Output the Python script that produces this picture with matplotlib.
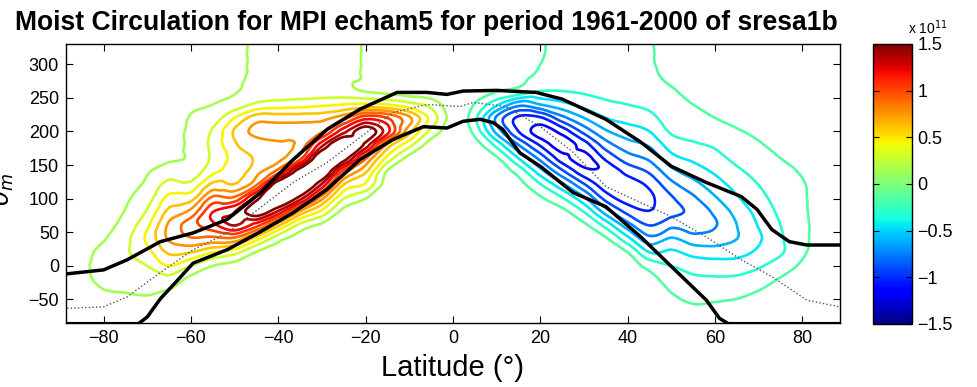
import numpy as np
import matplotlib
matplotlib.use("Agg")
import matplotlib.pyplot as plt
import matplotlib.tri as mtri
from matplotlib.colors import Normalize
from matplotlib.cm import ScalarMappable

# ---------------------------------------------------------------------------
# Moist streamfunction (units of 1e11 kg/s) on a latitude / theta_m grid.
# Each row of psi_by_lat is one latitude column, listed from theta_m=-100 to 340.
# ---------------------------------------------------------------------------
lats = np.arange(-90, 91, 5)
theta = np.arange(-100, 341, 20)

psi_by_lat = [
    # lat -90
    [0.02, 0.03, 0.05, 0.07, 0.08, 0.08, 0.07, 0.05, 0.04, 0.03, 0.03, 0.03, 0.03, 0.03, 0.03, 0.03, 0.03, 0.03, 0.03, 0.03, 0.03, 0.03, 0.03],
    # lat -85
    [0.03, 0.05, 0.07, 0.10, 0.12, 0.12, 0.11, 0.09, 0.07, 0.05, 0.04, 0.04, 0.04, 0.04, 0.04, 0.04, 0.04, 0.04, 0.04, 0.04, 0.04, 0.04, 0.04],
    # lat -80
    [0.03, 0.06, 0.10, 0.14, 0.18, 0.21, 0.19, 0.14, 0.10, 0.07, 0.06, 0.05, 0.05, 0.05, 0.05, 0.05, 0.05, 0.05, 0.05, 0.05, 0.05, 0.05, 0.05],
    # lat -75
    [0.04, 0.07, 0.11, 0.15, 0.20, 0.25, 0.28, 0.26, 0.21, 0.16, 0.13, 0.10, 0.08, 0.07, 0.06, 0.06, 0.06, 0.06, 0.06, 0.06, 0.06, 0.06, 0.06],
    # lat -70
    [0.05, 0.08, 0.12, 0.16, 0.22, 0.30, 0.40, 0.48, 0.42, 0.32, 0.24, 0.18, 0.14, 0.11, 0.09, 0.08, 0.08, 0.08, 0.08, 0.08, 0.08, 0.08, 0.08],
    # lat -65
    [0.05, 0.08, 0.10, 0.13, 0.25, 0.45, 0.62, 0.77, 0.78, 0.65, 0.50, 0.36, 0.22, 0.13, 0.10, 0.09, 0.08, 0.08, 0.08, 0.08, 0.08, 0.08, 0.08],
    # lat -60
    [0.04, 0.06, 0.08, 0.10, 0.11, 0.30, 0.60, 0.88, 0.98, 0.80, 0.55, 0.35, 0.20, 0.17, 0.18, 0.18, 0.16, 0.13, 0.11, 0.10, 0.10, 0.10, 0.10],
    # lat -55
    [0.03, 0.04, 0.06, 0.08, 0.10, 0.15, 0.45, 0.85, 1.15, 1.20, 0.95, 0.65, 0.42, 0.33, 0.34, 0.32, 0.22, 0.15, 0.12, 0.10, 0.10, 0.10, 0.10],
    # lat -50
    [0.03, 0.04, 0.05, 0.06, 0.07, 0.10, 0.35, 0.85, 1.35, 1.35, 0.95, 0.62, 0.50, 0.50, 0.58, 0.62, 0.45, 0.21, 0.14, 0.12, 0.12, 0.12, 0.12],
    # lat -45
    [0.03, 0.04, 0.05, 0.06, 0.07, 0.08, 0.14, 0.50, 1.10, 1.62, 1.45, 0.90, 0.70, 0.62, 0.66, 0.80, 0.68, 0.33, 0.20, 0.18, 0.17, 0.17, 0.17],
    # lat -40
    [0.03, 0.04, 0.05, 0.06, 0.06, 0.07, 0.09, 0.20, 0.62, 1.30, 1.75, 1.70, 0.98, 0.70, 0.72, 0.82, 0.68, 0.37, 0.20, 0.18, 0.18, 0.18, 0.18],
    # lat -35
    [0.03, 0.04, 0.05, 0.05, 0.06, 0.07, 0.08, 0.09, 0.25, 0.70, 1.40, 1.80, 1.65, 1.00, 0.80, 0.84, 0.68, 0.39, 0.21, 0.19, 0.18, 0.18, 0.18],
    # lat -30
    [0.03, 0.04, 0.05, 0.05, 0.06, 0.06, 0.07, 0.08, 0.12, 0.40, 0.78, 1.30, 1.75, 1.75, 1.30, 0.88, 0.70, 0.42, 0.21, 0.19, 0.18, 0.18, 0.18],
    # lat -25
    [0.02, 0.03, 0.04, 0.05, 0.05, 0.06, 0.06, 0.07, 0.08, 0.10, 0.30, 0.58, 0.98, 1.60, 1.78, 1.30, 0.85, 0.45, 0.20, 0.18, 0.17, 0.17, 0.17],
    # lat -20
    [0.02, 0.03, 0.04, 0.05, 0.05, 0.06, 0.06, 0.07, 0.08, 0.08, 0.15, 0.42, 0.62, 0.92, 1.45, 1.62, 1.15, 0.48, 0.14, 0.14, 0.14, 0.14, 0.14],
    # lat -15
    [0.02, 0.02, 0.03, 0.03, 0.04, 0.04, 0.05, 0.05, 0.06, 0.06, 0.06, 0.07, 0.13, 0.40, 0.70, 1.25, 1.05, 0.45, 0.10, 0.07, 0.05, 0.05, 0.05],
    # lat -10
    [0.01, 0.01, 0.02, 0.02, 0.02, 0.03, 0.03, 0.03, 0.04, 0.04, 0.04, 0.05, 0.06, 0.10, 0.35, 0.65, 0.78, 0.35, 0.06, 0.04, 0.03, 0.03, 0.03],
    # lat -5
    [0.00, 0.00, 0.00, 0.01, 0.01, 0.01, 0.01, 0.02, 0.02, 0.02, 0.02, 0.02, 0.03, 0.04, 0.08, 0.25, 0.40, 0.25, 0.03, 0.01, 0.01, 0.01, 0.01],
    # lat 0
    [0.00, 0.00, 0.00, 0.00, 0.00, 0.00, 0.00, 0.00, 0.00, 0.00, 0.00, 0.00, 0.00, 0.01, 0.02, 0.05, 0.06, 0.02, 0.00, 0.00, 0.00, 0.00, 0.00],
    # lat 5
    [0.00, 0.00, 0.00, 0.00, 0.00, 0.00, 0.00, 0.00, 0.00, 0.00, 0.00, -0.01, -0.02, -0.04, -0.08, -0.20, -0.26, -0.16, -0.06, -0.04, -0.03, -0.03, -0.03],
    # lat 10
    [0.00, 0.00, 0.00, 0.00, 0.00, 0.00, -0.01, -0.01, -0.02, -0.02, -0.03, -0.05, -0.08, -0.13, -0.35, -0.65, -0.78, -0.42, -0.14, -0.08, -0.06, -0.05, -0.05],
    # lat 15
    [0.00, 0.00, 0.00, 0.00, -0.01, -0.01, -0.02, -0.03, -0.04, -0.05, -0.07, -0.10, -0.20, -0.45, -0.75, -1.05, -1.08, -0.70, -0.20, -0.12, -0.10, -0.10, -0.10],
    # lat 20
    [0.00, 0.00, -0.01, -0.01, -0.02, -0.03, -0.04, -0.06, -0.08, -0.10, -0.13, -0.28, -0.53, -0.80, -1.07, -1.27, -1.07, -0.60, -0.30, -0.18, -0.15, -0.14, -0.14],
    # lat 25
    [0.00, -0.01, -0.01, -0.02, -0.03, -0.04, -0.06, -0.08, -0.10, -0.11, -0.28, -0.55, -0.86, -1.13, -1.28, -1.14, -0.80, -0.50, -0.30, -0.22, -0.19, -0.18, -0.18],
    # lat 30
    [0.00, -0.01, -0.02, -0.03, -0.04, -0.05, -0.06, -0.07, -0.12, -0.30, -0.56, -0.87, -1.14, -1.26, -1.12, -0.85, -0.60, -0.40, -0.28, -0.22, -0.20, -0.19, -0.19],
    # lat 35
    [-0.01, -0.02, -0.03, -0.04, -0.05, -0.07, -0.09, -0.13, -0.35, -0.66, -0.95, -1.13, -1.17, -1.02, -0.82, -0.62, -0.45, -0.33, -0.26, -0.22, -0.20, -0.20, -0.20],
    # lat 40
    [-0.02, -0.03, -0.04, -0.05, -0.06, -0.08, -0.15, -0.40, -0.68, -0.94, -1.11, -1.13, -1.00, -0.82, -0.66, -0.52, -0.40, -0.30, -0.23, -0.19, -0.17, -0.17, -0.17],
    # lat 45
    [-0.02, -0.03, -0.05, -0.07, -0.10, -0.20, -0.45, -0.70, -0.90, -1.04, -1.08, -1.02, -0.88, -0.72, -0.58, -0.45, -0.35, -0.26, -0.19, -0.17, -0.16, -0.16, -0.16],
    # lat 50
    [-0.03, -0.06, -0.10, -0.15, -0.22, -0.30, -0.42, -0.58, -0.78, -0.95, -0.92, -0.80, -0.65, -0.50, -0.38, -0.28, -0.21, -0.18, -0.16, -0.13, -0.11, -0.10, -0.10],
    # lat 55
    [-0.04, -0.08, -0.14, -0.20, -0.27, -0.36, -0.50, -0.68, -0.84, -0.86, -0.78, -0.66, -0.53, -0.42, -0.32, -0.25, -0.19, -0.15, -0.12, -0.10, -0.08, -0.08, -0.08],
    # lat 60
    [-0.04, -0.08, -0.13, -0.20, -0.28, -0.38, -0.52, -0.68, -0.76, -0.72, -0.62, -0.52, -0.43, -0.35, -0.28, -0.21, -0.15, -0.12, -0.10, -0.08, -0.07, -0.07, -0.07],
    # lat 65
    [-0.04, -0.07, -0.12, -0.18, -0.27, -0.38, -0.50, -0.60, -0.60, -0.55, -0.47, -0.40, -0.33, -0.26, -0.20, -0.16, -0.12, -0.10, -0.08, -0.07, -0.06, -0.06, -0.06],
    # lat 70
    [-0.03, -0.06, -0.10, -0.14, -0.22, -0.32, -0.42, -0.47, -0.44, -0.40, -0.35, -0.30, -0.25, -0.20, -0.16, -0.13, -0.10, -0.08, -0.07, -0.06, -0.05, -0.05, -0.05],
    # lat 75
    [-0.02, -0.04, -0.07, -0.10, -0.14, -0.22, -0.32, -0.32, -0.30, -0.27, -0.24, -0.21, -0.18, -0.15, -0.12, -0.10, -0.08, -0.06, -0.05, -0.05, -0.04, -0.04, -0.04],
    # lat 80
    [-0.01, -0.03, -0.05, -0.07, -0.10, -0.13, -0.17, -0.18, -0.18, -0.17, -0.165, -0.16, -0.14, -0.12, -0.10, -0.08, -0.06, -0.05, -0.04, -0.04, -0.03, -0.03, -0.03],
    # lat 85
    [-0.01, -0.02, -0.03, -0.05, -0.07, -0.08, -0.09, -0.10, -0.10, -0.10, -0.10, -0.09, -0.08, -0.07, -0.06, -0.05, -0.04, -0.03, -0.03, -0.02, -0.02, -0.02, -0.02],
    # lat 90
    [-0.01, -0.01, -0.02, -0.03, -0.04, -0.05, -0.06, -0.07, -0.07, -0.07, -0.07, -0.06, -0.06, -0.05, -0.04, -0.03, -0.03, -0.02, -0.02, -0.02, -0.01, -0.01, -0.01],
]

contour_levels = [-1.35, -1.2, -1.05, -0.9, -0.75, -0.6, -0.45, -0.3, -0.15,
                  0.15, 0.3, 0.45, 0.6, 0.75, 0.9, 1.05, 1.2, 1.35, 1.5]

# Thick black curves (upper and lower theta_m envelopes)
upper_lat = [-90, -80, -74.6, -67, -59.5, -51.7, -44, -36.6, -28.8, -21.3, -12.8, -6, -1.4,
             2.3, 10, 19, 25, 35, 43, 50, 58, 66, 69.6, 73, 77, 81, 90]
upper_theta = [-13, -6, 9, 36, 49, 69, 109, 158, 203, 233, 258, 258, 255,
               260, 261, 258, 248, 218, 184, 148, 124, 103, 84, 54, 36, 31, 31]

lower_lat = [-90, -72, -70, -67, -63, -59.5, -51.7, -44, -36.6, -28.8, -21.3, -13.7, -6.8, -1.4,
             2.3, 6.2, 9.2, 11.4, 15.3, 20, 27.5, 35, 43, 50, 58, 61, 63, 90]
lower_theta = [-86, -86, -76, -49, -21, 4, 24, 51, 79, 114, 158, 188, 207, 205,
               215, 218, 213, 203, 168, 148, 109, 88, 43, -1, -51, -78, -86, -86]

# Thin dotted curve (median theta_m)
median_lat = [-90, -87.6, -80, -74.6, -67, -59.5, -51.7, -44, -36.6, -28.8, -21.3, -13.7, -6,
              1.6, 4.6, 12, 20, 27.5, 35, 43, 50, 58, 66, 73, 81, 90]
median_theta = [-63, -63, -61, -46, -10, 24, 49, 87, 124, 154, 191, 228, 240,
                237, 243, 237, 207, 169, 118, 94, 73, 43, 9, -16, -51, -63]

title_text = "Moist Circulation for MPI echam5 for period 1961-2000 of sresa1b"
x_ticks = [-80, -60, -40, -20, 0, 20, 40, 60, 80]
y_ticks = [-50, 0, 50, 100, 150, 200, 250, 300]
cbar_ticks = [-1.5, -1, -0.5, 0, 0.5, 1, 1.5]

# ---------------------------------------------------------------------------
W, H = 978, 387
fig = plt.figure(figsize=(W / 100, H / 100), dpi=100)
plt.rcParams["font.family"] = ["Liberation Sans", "DejaVu Sans"]

ax = fig.add_axes([66 / W, 1 - 323 / H, 774 / W, 279 / H])

psi = np.array(psi_by_lat).T            # shape (n_theta, n_lat)
LAT, TH = np.meshgrid(lats, theta)
ny, nx = psi.shape
idx = np.arange(ny * nx).reshape(ny, nx)
a = idx[:-1, :-1].ravel(); b = idx[:-1, 1:].ravel()
c = idx[1:, 1:].ravel(); d = idx[1:, :-1].ravel()
zf = psi.ravel()
# split each grid cell along the diagonal with the smaller jump in psi
use_ac = np.abs(zf[a] - zf[c]) <= np.abs(zf[b] - zf[d])
t1 = np.where(use_ac[:, None], np.stack([a, b, c], 1), np.stack([a, b, d], 1))
t2 = np.where(use_ac[:, None], np.stack([a, c, d], 1), np.stack([b, c, d], 1))
triangles = np.concatenate([t1, t2])

# work in a scaled vertical coordinate so grid cells are square for smoothing
scale = 4.0
tri = mtri.Triangulation(LAT.ravel(), TH.ravel() / scale, triangles)
interp = mtri.CubicTriInterpolator(tri, zf, kind="geom")
tri_f, psi_f = mtri.UniformTriRefiner(tri).refine_field(zf, triinterpolator=interp, subdiv=3)
tri_plot = mtri.Triangulation(tri_f.x, tri_f.y * scale, tri_f.triangles)

norm = Normalize(vmin=-1.5, vmax=1.5)
ax.tricontour(tri_plot, psi_f, levels=contour_levels, cmap="jet", norm=norm, linewidths=1.9, zorder=2)

ax.plot(upper_lat, upper_theta, color="black", lw=2.5, zorder=4, solid_capstyle="round")
ax.plot(lower_lat, lower_theta, color="black", lw=2.5, zorder=4, solid_capstyle="round")
ax.plot(median_lat, median_theta, color="#555555", lw=1.0, ls=(0, (1, 1.6)), zorder=5)

ax.set_xlim(-88.6, 88.6)
ax.set_ylim(-85, 330)
ax.set_xticks(x_ticks)
ax.set_yticks(y_ticks)
ax.tick_params(direction="in", top=True, right=True, length=5, width=0.8, labelsize=13, pad=5)
for s in ax.spines.values():
    s.set_linewidth(1.0)

ax.set_xlabel("Latitude (°)", fontsize=21, labelpad=5)
ax.set_ylabel(r"$\theta_m$", fontsize=18)
ax.yaxis.set_label_coords(-0.064, 0.48)

# colour bar
cax = fig.add_axes([873 / W, 1 - 324 / H, 39 / W, 280 / H])
sm = ScalarMappable(norm=norm, cmap="jet")
cb = fig.colorbar(sm, cax=cax, ticks=cbar_ticks)
cb.ax.set_yticklabels(["\u22121.5", "\u22121", "\u22120.5", "0", "0.5", "1", "1.5"])
cb.ax.tick_params(direction="in", left=True, right=True, length=4, width=0.8, labelsize=13, pad=4)
cb.outline.set_linewidth(1.0)
fig.text(928 / W, 1 - 34 / H, r"x 10$^{11}$", fontsize=10, ha="center", va="baseline")

# title, sized to span the header
t = fig.text(15 / W, 1 - 30 / H, title_text, fontsize=21, fontweight="bold",
             ha="left", va="baseline")
fig.canvas.draw()
bb = t.get_window_extent()
t.set_fontsize(21 * 823 / bb.width)

fig.savefig("out.png", dpi=100)
